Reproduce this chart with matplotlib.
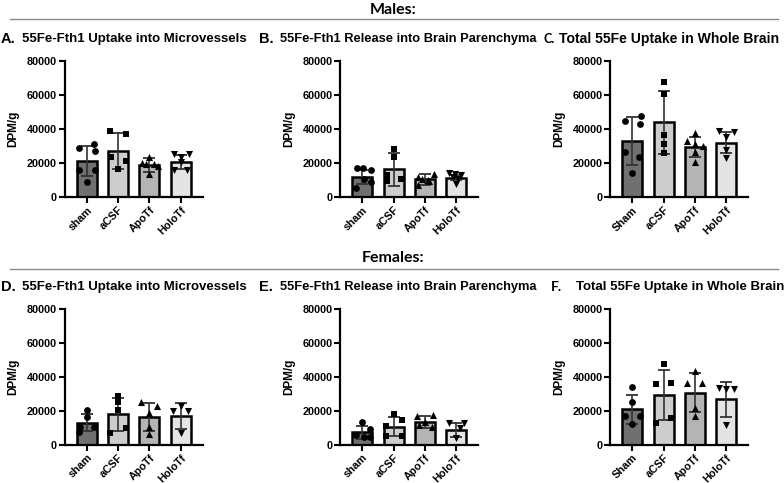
import matplotlib
matplotlib.use("Agg")
import matplotlib.pyplot as plt
import numpy as np

plt.rcParams['font.family'] = ['Liberation Sans', 'DejaVu Sans']

groups_lower = ["sham", "aCSF", "ApoTf", "HoloTf"]
groups_upper = ["Sham", "aCSF", "ApoTf", "HoloTf"]

titles = ["55Fe-Fth1 Uptake into Microvessels",
          "55Fe-Fth1 Release into Brain Parenchyma",
          "Total 55Fe Uptake in Whole Brain"]

# ---- Males ----
A_mean = [21200, 27400, 18900, 20800]
A_sd = [8800, 10600, 4000, 4200]
A_pts = [[29200, 31200, 27000, 16300, 15900, 8800],
         [39200, 37200, 23500, 21200, 16900],
         [23500, 20000, 19500, 19500, 18500, 13500],
         [25700, 25700, 23700, 20800, 15900, 15900]]

B_mean = [12200, 16500, 10600, 11600]
B_sd = [4100, 9800, 3100, 1400]
B_pts = [[17250, 17250, 15900, 10600, 9000, 5700],
         [28600, 23700, 12900, 9400, 10600],
         [14000, 12000, 11000, 10000, 7500, 9500],
         [14300, 13900, 13300, 12000, 11000, 8000]]

C_mean = [33000, 44200, 29700, 32100]
C_sd = [14000, 18500, 6000, 6100]
C_pts = [[44900, 48000, 43300, 26700, 23900, 14500],
         [67600, 60800, 36500, 31600, 26300],
         [38000, 33000, 31500, 30000, 26500, 21000],
         [39000, 38500, 35500, 28000, 23000]]

# ---- Females ----
D_mean = [13100, 18000, 16700, 17100]
D_sd = [5100, 9600, 8200, 7400]
D_pts = [[20600, 16300, 10800, 7400, 10500],
         [28800, 25500, 20600, 10200, 7300],
         [25100, 22900, 18600, 10400, 6300],
         [20000, 20000, 22900, 6900]]

E_mean = [7500, 10800, 13700, 8800]
E_sd = [3900, 5500, 3500, 4300]
E_pts = [[13700, 9200, 6000, 5000, 4500],
         [18200, 14700, 11200, 5300, 5300],
         [17600, 17000, 13500, 12000, 10500],
         [12900, 12700, 9800, 4200]]

F_mean = [21000, 29200, 30800, 26900]
F_sd = [8600, 14700, 11300, 10300]
F_pts = [[34300, 25100, 17200, 17200, 12500],
         [47400, 35700, 36500, 13100, 15700],
         [43500, 36700, 36700, 21600, 17000],
         [33300, 32700, 32700, 11800]]

# horizontal scatter offsets of the points (category units)
A_jit = [[-0.23, 0.24, 0.27, -0.24, 0.26, 0.0],
         [-0.24, 0.24, -0.23, 0.24, 0.0],
         [0.0, -0.25, -0.12, 0.14, 0.27, 0.0],
         [-0.22, 0.25, 0.02, 0.02, -0.22, 0.2]]
B_jit = [[-0.18, 0.03, 0.28, 0.06, 0.27, -0.21],
         [0.0, 0.0, -0.22, -0.22, 0.24],
         [0.28, -0.23, -0.08, 0.1, -0.23, 0.12],
         [-0.24, -0.03, 0.16, -0.12, 0.05, 0.0]]
C_jit = [[-0.23, 0.27, 0.24, -0.24, 0.22, 0.0],
         [0.0, 0.0, 0.0, 0.0, 0.0],
         [0.0, -0.25, 0.0, 0.25, 0.0, 0.0],
         [-0.23, 0.23, 0.0, 0.0, 0.0]]
D_jit = [[0.0, 0.0, 0.23, -0.23, -0.22],
         [0.0, 0.0, 0.0, 0.24, -0.24],
         [-0.27, 0.24, 0.0, 0.0, 0.0],
         [-0.26, 0.23, 0.0, 0.0]]
E_jit = [[0.0, 0.26, -0.2, 0.05, 0.25],
         [0.0, 0.26, -0.24, -0.24, 0.26],
         [0.26, -0.24, 0.0, -0.2, 0.22],
         [0.24, -0.23, 0.12, 0.0]]
F_jit = [[0.0, 0.0, -0.24, 0.24, 0.0],
         [0.0, -0.25, 0.24, -0.25, 0.24],
         [0.0, -0.27, 0.23, 0.0, 0.0],
         [-0.23, 0.0, 0.23, 0.0]]

bar_colors = ["#707070", "#cdcdcd", "#b4b4b4", "#e4e4e4"]
markers = ["o", "s", "^", "v"]
msizes = [24, 22, 26, 26]

W, H = 784, 483
fig = plt.figure(figsize=(W / 100, H / 100), dpi=100)

col_left = [64.7, 340.3, 610.3]
ax_w = 138
row_bottom = [197.3, 445]
ax_h = 136

panels = [
    ("A.", A_mean, A_sd, A_pts, A_jit, groups_lower, 0, 0),
    ("B.", B_mean, B_sd, B_pts, B_jit, groups_lower, 0, 1),
    ("C.", C_mean, C_sd, C_pts, C_jit, groups_upper, 0, 2),
    ("D.", D_mean, D_sd, D_pts, D_jit, groups_lower, 1, 0),
    ("E.", E_mean, E_sd, E_pts, E_jit, groups_lower, 1, 1),
    ("F.", F_mean, F_sd, F_pts, F_jit, groups_upper, 1, 2),
]

letter_pos = {"A.": (1, 22), "B.": (259, 280), "C.": (544, 559),
              "D.": (1, 22), "E.": (259, 280), "F.": (551, 576)}
letter_family = {"A.": ["Liberation Sans"], "B.": ["Liberation Sans"],
                 "C.": ["Lato"], "D.": ["Liberation Sans"],
                 "E.": ["Liberation Sans"], "F.": ["Lato"]}
letter_size = {"A.": 10.5, "B.": 10.5, "C.": 9, "D.": 10.5, "E.": 10.5, "F.": 10}
title_size = {"A.": 9.5, "B.": 9.3, "C.": 10.1, "D.": 9.5, "E.": 9.3, "F.": 9.5}
title_y = [39, 287]

for letter, means, sds, pts, jit, labels, r, c in panels:
    left = col_left[c] / W
    bottom = (H - row_bottom[r]) / H
    ax = fig.add_axes([left, bottom, ax_w / W, ax_h / H])
    x = np.arange(len(labels))
    ax.bar(x, means, width=0.64, color=bar_colors, edgecolor="black",
           linewidth=1.8, zorder=2)
    ax.errorbar(x, means, yerr=sds, fmt="none", ecolor="#333333",
                elinewidth=1.2, capsize=4.5, capthick=1.3, zorder=3)
    for i in range(len(labels)):
        xs = i + np.array(jit[i])
        ax.scatter(xs, pts[i], marker=markers[i], s=msizes[i], color="black",
                   linewidths=0, zorder=4)
    ax.set_xlim(-0.7, 3.7)
    ax.set_ylim(0, 80000)
    ax.set_yticks([0, 20000, 40000, 60000, 80000])
    ax.set_yticklabels(["0", "20000", "40000", "60000", "80000"],
                       fontsize=7.8, fontweight="bold")
    ax.set_xticks(x)
    ax.set_xticklabels(labels, rotation=45, ha="right", rotation_mode="anchor",
                       fontsize=7.8, fontweight="bold")
    ax.tick_params(axis="both", width=1.5, length=4, pad=1.5)
    for s in ["top", "right"]:
        ax.spines[s].set_visible(False)
    for s in ["left", "bottom"]:
        ax.spines[s].set_linewidth(1.6)
    ax.set_ylabel("DPM/g", fontsize=8.5, fontweight="bold")
    ax.yaxis.set_label_coords(-45 / ax_w, 0.5)

    lx, tx = letter_pos[letter]
    ty = title_y[r]
    fig.text(lx / W, 1 - ty / H, letter, fontsize=letter_size[letter],
             fontweight="bold", family=letter_family[letter] + ["DejaVu Sans"],
             ha="left", va="center")
    fig.text(tx / W, 1 - ty / H, titles[c], fontsize=title_size[letter],
             fontweight="bold", ha="left", va="center")

# section headers and separator lines
for ytxt, yline, txt in [(10, 19.3, "Males:"), (258, 269.3, "Females:")]:
    fig.text(393 / W, 1 - ytxt / H, txt, fontsize=11.5, fontweight="bold",
             family=["Lato", "DejaVu Sans"], ha="center", va="center")
    fig.add_artist(plt.Line2D([10 / W, 778 / W], [1 - yline / H, 1 - yline / H],
                              color="#8a8a8a", linewidth=1.0))

fig.savefig("out.png", dpi=100)
